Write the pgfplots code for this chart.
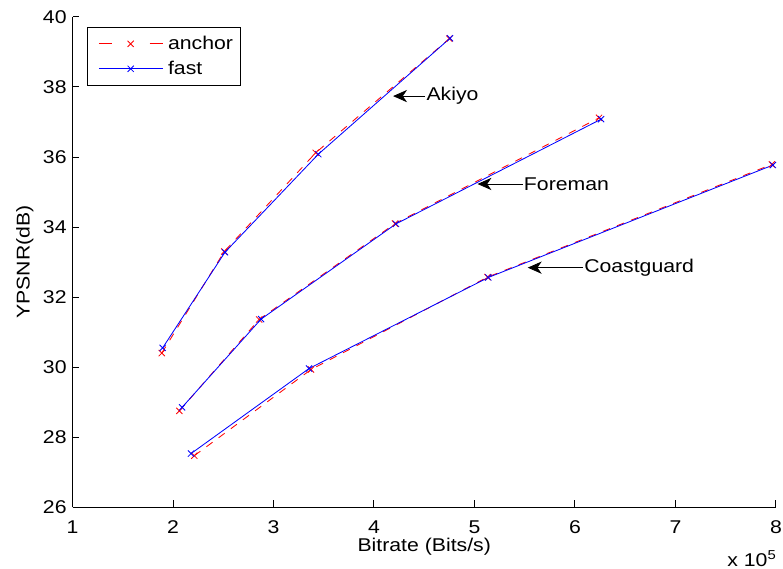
\documentclass[border=0pt]{standalone}
\usepackage{fontspec}
\setmainfont{Liberation Sans}[FakeStretch=1.15]
\usepackage{pgfplots}
\pgfplotsset{compat=1.18}
\usetikzlibrary{arrows.meta}

\begin{document}
\begin{tikzpicture}[font=\fontsize{11}{13.2}\selectfont]
\begin{axis}[
    name=ax,
    width=419pt, height=292pt, scale only axis,
    xmin=1, xmax=8, ymin=26, ymax=40,
    xtick={1,2,3,4,5,6,7,8},
    ytick={26,28,30,32,34,36,38,40},
    axis lines*=left,
    axis line style={line width=0.6pt},
    tick align=inside,
    major tick length=4pt,
    tick style={line width=0.6pt, black},
    xticklabel style={yshift=-4.5pt},
    /pgf/number format/assume math mode=true,
    legend style={at={(rel axis cs:0,1)}, anchor=north west, xshift=8.6pt, yshift=-6pt,
        draw=black, line width=0.6pt, inner xsep=3pt, inner ysep=3.5pt, row sep=2.4pt,
        nodes={inner sep=1.5pt}},
    legend cell align=left,
    legend image code/.code={%
        \path (-3.5pt,0pt) (39.5pt,0pt);
        \draw[mark repeat=2,mark phase=2,#1] plot coordinates {(0pt,0pt) (19pt,0pt) (38pt,0pt)};},
    every axis plot/.append style={line width=0.5pt, mark=x, mark size=2.6pt},
    clip=false,
]

% Akiyo (x in units of 10^5 bits/s)
\addplot[red, dash pattern=on 4.5pt off 4.5pt, mark options={solid},
    legend image post style={dash pattern=on 7.7pt off 22.6pt}] coordinates {
    (1.888,30.40) (2.510,33.30) (3.420,36.12) (4.750,39.38)
};
\addlegendentry{anchor}
\addplot[blue] coordinates {
    (1.897,30.55) (2.517,33.28) (3.446,36.08) (4.756,39.39)
};
\addlegendentry{fast}

% Foreman
\addplot[red, dash pattern=on 4.5pt off 4.5pt, mark options={solid}, forget plot] coordinates {
    (2.063,28.75) (2.857,31.36) (4.210,34.10) (6.240,37.12)
};
\addplot[blue, forget plot] coordinates {
    (2.090,28.85) (2.876,31.37) (4.219,34.09) (6.260,37.08)
};

% Coastguard
\addplot[red, dash pattern=on 4.5pt off 4.5pt, mark options={solid}, forget plot] coordinates {
    (2.212,27.47) (3.373,29.93) (5.130,32.57) (7.960,35.79)
};
\addplot[blue, forget plot] coordinates {
    (2.179,27.53) (3.354,29.96) (5.138,32.56) (7.970,35.77)
};

\draw[-{Stealth[length=8.3pt,width=7.3pt,inset=2.5pt]}, line width=0.5pt]
    (axis cs:4.51,37.74) node[anchor=west, inner sep=0.5pt] {Akiyo} -- (axis cs:4.19,37.74);
\draw[-{Stealth[length=8.3pt,width=7.3pt,inset=2.5pt]}, line width=0.5pt]
    (axis cs:5.48,35.23) node[anchor=west, inner sep=0.5pt] {Foreman} -- (axis cs:5.03,35.23);
\draw[-{Stealth[length=8.3pt,width=7.3pt,inset=2.5pt]}, line width=0.5pt]
    (axis cs:6.08,32.84) node[anchor=west, inner sep=0.5pt] {Coastguard} -- (axis cs:5.53,32.84);
\end{axis}

\node[anchor=base, inner sep=0pt] at ([yshift=-26.2pt]ax.south) {Bitrate (Bits/s)};
\node[anchor=base east, inner sep=0pt] at ([yshift=-35.1pt, xshift=0.6pt]ax.south east) {x 10\textsuperscript{5}};
\node[anchor=base, rotate=90, inner sep=0pt] at ([xshift=-25.6pt]ax.west) {YPSNR(dB)};

\pgfresetboundingbox
\path ([xshift=-43.2pt, yshift=-36.3pt]ax.south west) rectangle ([xshift=4.2pt, yshift=10.1pt]ax.north east);
\end{tikzpicture}
\end{document}
